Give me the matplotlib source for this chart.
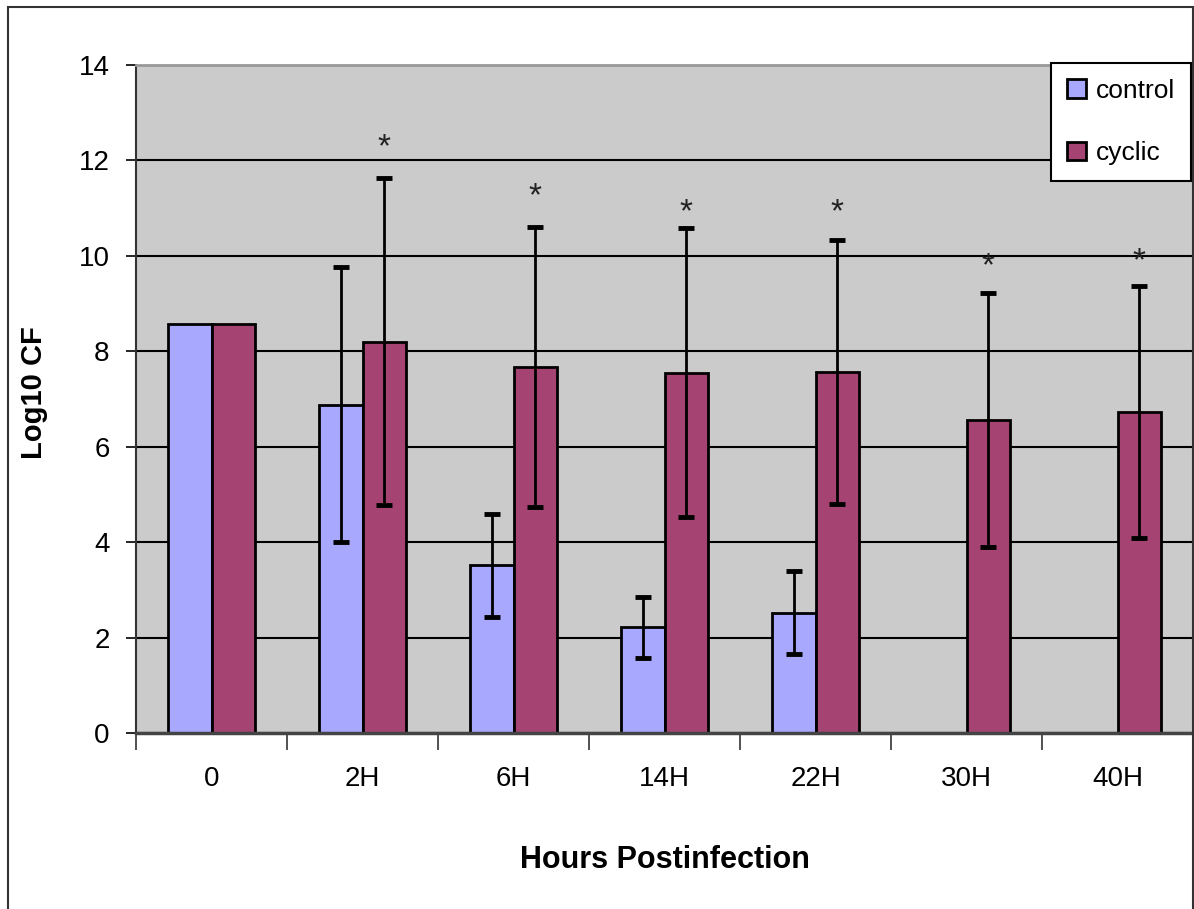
import numpy as np
import matplotlib
matplotlib.use("Agg")
import matplotlib.pyplot as plt
from matplotlib.patches import Rectangle

# values
hours = ["0", "2H", "6H", "14H", "22H", "30H", "40H"]
control = [8.57, 6.88, 3.52, 2.22, 2.52, np.nan, np.nan]
control_err = [0.0, 2.88, 1.08, 0.64, 0.87, np.nan, np.nan]
cyclic = [8.57, 8.20, 7.67, 7.55, 7.57, 6.56, 6.73]
cyclic_err = [0.0, 3.43, 2.93, 3.03, 2.77, 2.67, 2.64]
star_y = [np.nan, 12.26, 11.24, 10.90, 10.90, 9.77, 9.87]
y_ticks = [0, 2, 4, 6, 8, 10, 12, 14]

FONT = ["Liberation Sans Narrow", "Liberation Sans", "DejaVu Sans"]
plt.rcParams["font.family"] = FONT

fig = plt.figure(figsize=(11.94, 9.09), dpi=100)
ax = fig.add_axes([136 / 1194, 1 - 733 / 909, (1193 - 136) / 1194, (733 - 65) / 909])
ax.set_facecolor("#cbcbcb")

x = np.arange(len(hours))
w = 0.285
ctrl = np.array(control)
ctrl_e = np.array(control_err)
cyc = np.array(cyclic)
cyc_e = np.array(cyclic_err)
ok = ~np.isnan(ctrl)

ax.set_axisbelow(True)
ax.yaxis.grid(True, color="black", linewidth=1.5)

ax.bar(x[ok] - w / 2, ctrl[ok], w, color="#a8a8ff", edgecolor="black",
       linewidth=2, label="control", zorder=2)
ax.bar(x + w / 2, cyc, w, color="#a54473", edgecolor="black",
       linewidth=2, label="cyclic", zorder=2)

eb = ok & (ctrl_e > 0)
ax.errorbar(x[eb] - w / 2, ctrl[eb], yerr=ctrl_e[eb], fmt="none", ecolor="black",
            elinewidth=2, capsize=6, capthick=3.5, zorder=3)
eb2 = cyc_e > 0
ax.errorbar(x[eb2] + w / 2, cyc[eb2], yerr=cyc_e[eb2], fmt="none", ecolor="black",
            elinewidth=2, capsize=6, capthick=3.5, zorder=3)

for xi, sy in zip(x, star_y):
    if not np.isnan(sy):
        ax.text(xi + w / 2, sy, "*", ha="center", va="center", fontsize=24,
                color="#222222", zorder=4)

ax.set_xlim(-0.5, len(hours) - 0.5)
ax.set_ylim(0, 14)
ax.set_yticks(y_ticks)
ax.set_xticks(x)
ax.set_xticklabels(hours)
ax.set_xticks(np.arange(len(hours) + 1) - 0.5, minor=True)
ax.tick_params(axis="x", which="major", length=0, pad=24, labelsize=20)
ax.tick_params(axis="x", which="minor", length=12, width=1.2, color="#333333")
ax.tick_params(axis="y", length=7, width=1.2, pad=12, labelsize=20)

ax.spines["top"].set_color("#999999")
ax.spines["top"].set_linewidth(2)
ax.spines["right"].set_visible(False)
ax.spines["left"].set_color("#333333")
ax.spines["left"].set_linewidth(1.5)
ax.spines["bottom"].set_color("#444444")
ax.spines["bottom"].set_linewidth(2.5)

ax.set_xlabel("Hours Postinfection", fontsize=22, fontweight="bold", labelpad=38)
ax.set_ylabel("Log10 CF", fontsize=21, fontweight="bold")
ax.yaxis.set_label_coords((48 - 136) / 1057, 0.51)

leg = ax.legend(loc="upper right", bbox_to_anchor=(0.9985, 1.003), fontsize=19,
                frameon=True, fancybox=False, edgecolor="black", framealpha=1,
                handlelength=0.7, handleheight=0.7, handletextpad=0.4,
                labelspacing=1.45, borderpad=0.6, borderaxespad=0)
leg.get_frame().set_linewidth(1.5)
for h in leg.legend_handles:
    h.set_linewidth(2)

# outer chart frame
fig.patches.append(Rectangle((8 / 1194, -0.01), (1193 - 8) / 1194, 1.01 - 7 / 909,
                             transform=fig.transFigure, fill=False,
                             edgecolor="#333333", linewidth=1.5))

fig.savefig("out.png", dpi=100)
